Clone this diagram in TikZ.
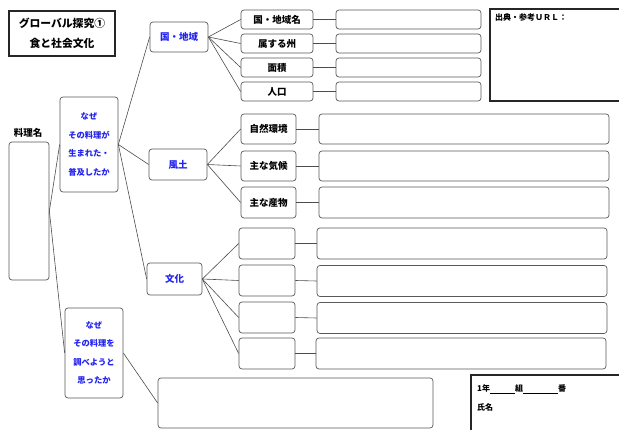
\documentclass[tikz,border=0pt]{standalone}
\usepackage{fontspec}
\setmainfont{Noto Sans CJK JP}
\definecolor{bluetxt}{RGB}{35,35,240}
\begin{document}
\begin{tikzpicture}[x=1pt,y=-1pt,
  box/.style={draw=black!65, line width=0.7pt, rounded corners=3pt, inner sep=0pt, font=\fontsize{9.5}{11}\selectfont\bfseries},
  thickbox/.style={draw=black!85, line width=1.4pt, inner sep=0pt},
  conn/.style={draw=black!70, line width=0.6pt},
  bluet/.style={text=bluetxt}]
\useasboundingbox (0,0) rectangle (619,430);
% title
\node[thickbox, minimum width=106pt, minimum height=45pt, align=center,
  font=\fontsize{10.8}{20}\selectfont\bfseries] (title) at (62,33.5) {グローバル探究①\\食と社会文化};
% source box (right edge runs off the page)
\node[thickbox, minimum width=134pt, minimum height=92pt] (src) at (557,55) {};
\node[anchor=north west, inner sep=0pt, font=\fontsize{8}{9}\selectfont\bfseries] (srctxt) at (495,13) {出典・参考ＵＲＬ：};
% dish name
\node[inner sep=0pt, font=\fontsize{9.5}{11}\selectfont\bfseries] (ryorilbl) at (28,133) {料理名};
\node[box, minimum width=40pt, minimum height=138pt] (ryori) at (29,211) {};
% why boxes
\node[box, bluet, minimum width=58pt, minimum height=95pt, align=center,
  font=\fontsize{8.3}{18.7}\selectfont\bfseries] (naze1) at (89,144.5) {なぜ\\その料理が\\生まれた・\\普及したか};
\node[box, bluet, minimum width=58pt, minimum height=90pt, align=center,
  font=\fontsize{8.3}{18.3}\selectfont\bfseries] (naze2) at (94,353) {なぜ\\その料理を\\調べようと\\思ったか};
% categories
\node[box, bluet, minimum width=58pt, minimum height=30pt] (kuni) at (179,37) {国・地域};
\node[box, bluet, minimum width=58pt, minimum height=31pt] (fudo) at (178,164.5) {風土};
\node[box, bluet, minimum width=55pt, minimum height=32pt] (bunka) at (174.5,279) {文化};
% kuni children
\node[box, minimum width=72pt, minimum height=19pt] (k1) at (277,19.5) {国・地域名};
\node[box, minimum width=72pt, minimum height=19pt] (k2) at (277,43.5) {属する州};
\node[box, minimum width=72pt, minimum height=19pt] (k3) at (277,67.5) {面積};
\node[box, minimum width=72pt, minimum height=19pt] (k4) at (277,91.5) {人口};
\node[box, minimum width=145pt, minimum height=19pt] (ka1) at (408.5,19.5) {};
\node[box, minimum width=145pt, minimum height=19pt] (ka2) at (408.5,43.5) {};
\node[box, minimum width=145pt, minimum height=19pt] (ka3) at (408.5,67.5) {};
\node[box, minimum width=145pt, minimum height=19pt] (ka4) at (408.5,91.5) {};
% fudo children
\node[box, minimum width=55pt, minimum height=30pt] (f1) at (268.5,129) {自然環境};
\node[box, minimum width=55pt, minimum height=30pt] (f2) at (268.5,166) {主な気候};
\node[box, minimum width=55pt, minimum height=31pt] (f3) at (268.5,202.5) {主な産物};
\node[box, minimum width=290pt, minimum height=30pt] (fa1) at (464,129) {};
\node[box, minimum width=290pt, minimum height=30pt] (fa2) at (464,166) {};
\node[box, minimum width=290pt, minimum height=31pt] (fa3) at (464,202.5) {};
% bunka children
\node[box, minimum width=56pt, minimum height=31pt] (b1) at (267,243.5) {};
\node[box, minimum width=56pt, minimum height=31pt] (b2) at (267,280.5) {};
\node[box, minimum width=56pt, minimum height=31pt] (b3) at (267,317.5) {};
\node[box, minimum width=56pt, minimum height=31pt] (b4) at (267,353.5) {};
\node[box, minimum width=290pt, minimum height=31pt] (ba1) at (462,243.5) {};
\node[box, minimum width=290pt, minimum height=31pt] (ba2) at (462,281) {};
\node[box, minimum width=290pt, minimum height=31pt] (ba3) at (462,318) {};
\node[box, minimum width=290pt, minimum height=31pt] (ba4) at (461,353.5) {};
% bottom boxes
\node[box, minimum width=275pt, minimum height=50pt] (bottom) at (295.5,403) {};
\node[thickbox, minimum width=154pt, minimum height=62pt] (namebox) at (548,406) {};
\node[anchor=west, inner sep=0pt, font=\fontsize{8}{9}\selectfont\bfseries] (cls) at (477,389)
  {1年\underline{\hspace{25pt}}組\underline{\hspace{35pt}}番};
\node[anchor=west, inner sep=0pt, font=\fontsize{8}{9}\selectfont\bfseries] (shimei) at (477,407) {氏名};
% connectors
\draw[conn] (ryori.east) -- (naze1.west);
\draw[conn] (ryori.east) -- (naze2.west);
\draw[conn] (naze2.east) -- (bottom.west);
\foreach \c in {kuni,fudo,bunka} \draw[conn] (naze1.east) -- (\c.west);
\foreach \i in {1,2,3,4} {
  \draw[conn] (kuni.east) -- (k\i.west);
  \draw[conn] (k\i.east) -- (ka\i.west);
  \draw[conn] (bunka.east) -- (b\i.west);
  \draw[conn] (b\i.east) -- (ba\i.west);
}
\foreach \i in {1,2,3} {
  \draw[conn] (fudo.east) -- (f\i.west);
  \draw[conn] (f\i.east) -- (fa\i.west);
}
\end{tikzpicture}
\end{document}
